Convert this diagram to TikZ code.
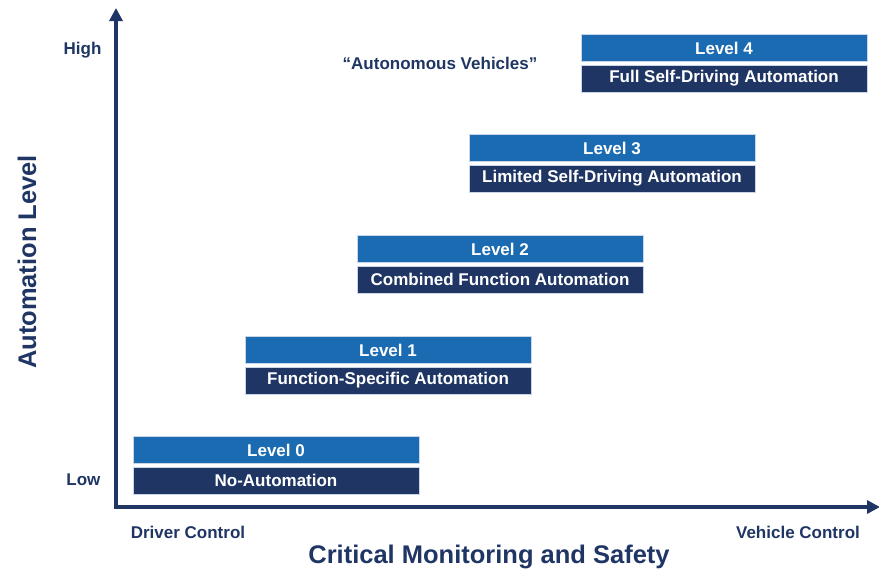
\documentclass[tikz,border=0pt]{standalone}
\usepackage{fontspec}
\setmainfont{Liberation Sans}
\usetikzlibrary{positioning,arrows.meta}
\definecolor{azulnivel}{HTML}{1A6BB2}
\definecolor{azuloscuro}{HTML}{1F3564}
\definecolor{bordeclaro}{HTML}{C9D5E8}
\tikzset{
	nivel/.style={rectangle, fill=azulnivel, draw=bordeclaro, line width=0.6pt,
		text=white, font=\bfseries\fontsize{17}{20}\selectfont,
		minimum width=286pt, minimum height=27pt, inner sep=0pt},
	descripcion/.style={nivel, fill=azuloscuro},
	etiqueta/.style={text=azuloscuro, font=\bfseries\fontsize{17}{20}\selectfont},
	tituloeje/.style={text=azuloscuro, font=\bfseries\fontsize{25.5}{29}\selectfont},
	eje/.style={draw=azuloscuro, line width=3.5pt, line join=miter,
		{Triangle[width=13pt,length=13pt]}-{Triangle[width=13pt,length=13pt]}}
}

\begin{document}
\begin{tikzpicture}[x=1pt, y=-1pt, node distance=3pt]
			\useasboundingbox (0,0) rectangle (879,573);
			
			\coordinate (origen) at (116,507);
			\coordinate (ytope) at (116,8);
			\coordinate (xtope) at (880,507);
			\draw[eje] (ytope) -- (origen) -- (xtope);
			
			\node[nivel] (n0) at (276,450) {Level 0};
			\node[descripcion, below=of n0] (d0) {No-Automation};
			
			\node[nivel] (n1) at (388,350) {Level 1};
			\node[descripcion, below=of n1] (d1) {Function-Specific Automation};
			
			\node[nivel] (n2) at (500,249) {Level 2};
			\node[descripcion, below=of n2] (d2) {Combined Function Automation};
			
			\node[nivel] (n3) at (612,148) {Level 3};
			\node[descripcion, below=of n3] (d3) {Limited Self-Driving Automation};
			
			\node[nivel] (n4) at (724,48) {Level 4};
			\node[descripcion, below=of n4] (d4) {Full Self-Driving Automation};
			
			\node[etiqueta] (autonomos) at (440,63) {“Autonomous Vehicles”};
			
			\node[etiqueta, anchor=east] (alto) at (105,50) {High};
			\node[etiqueta, anchor=east] (bajo) at (104,480) {Low};
			\node[etiqueta] (conductor) at (188,532) {Driver Control};
			\node[etiqueta] (vehiculo) at (798,532) {Vehicle Control};
			
			\node[tituloeje] (titulox) at (489,557) {Critical Monitoring and Safety};
			\node[tituloeje, rotate=90] (tituloy) at (27,262) {Automation Level};
		\end{tikzpicture}
\end{document}
